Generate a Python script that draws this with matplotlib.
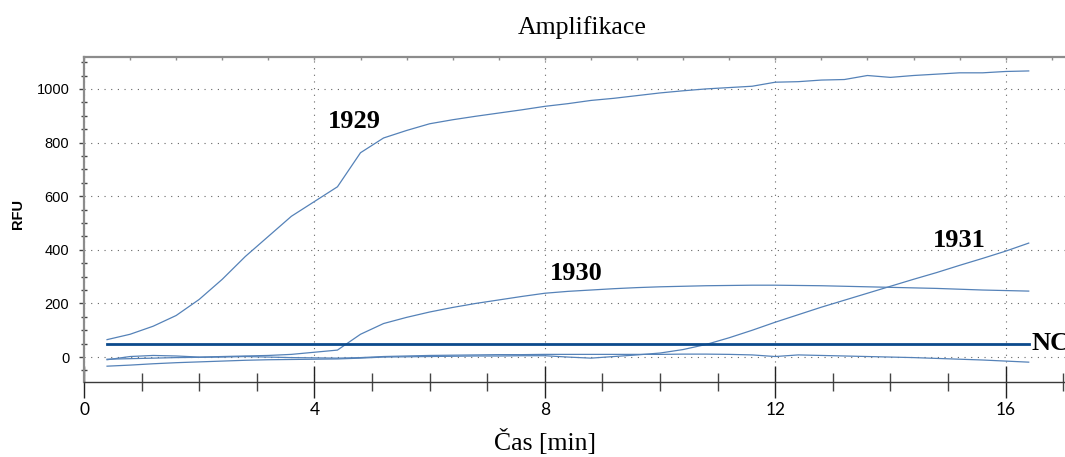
import matplotlib
matplotlib.use("Agg")
import matplotlib.pyplot as plt
from matplotlib.ticker import MultipleLocator, FixedLocator

# Cycle times [min]
time_min = [0.4, 0.8, 1.2, 1.6, 2.0, 2.4, 2.8, 3.2, 3.6, 4.0, 4.4,
            4.8, 5.2, 5.6, 6.0, 6.4, 6.8, 7.2, 7.6, 8.0, 8.4,
            8.8, 9.2, 9.6, 10.0, 10.4, 10.8, 11.2, 11.6, 12.0, 12.4,
            12.8, 13.2, 13.6, 14.0, 14.4, 14.8, 15.2, 15.6, 16.0, 16.4]

# Fluorescence (RFU) per sample
rfu_1929 = [65, 85, 115, 155, 215, 290, 375, 450, 525, 580, 635,
            762, 817, 845, 870, 885, 898, 910, 922, 935, 945,
            957, 965, 975, 985, 993, 1000, 1005, 1010, 1025, 1027,
            1033, 1035, 1050, 1043, 1050, 1055, 1060, 1060, 1065, 1067]
rfu_1930 = [-10, 2, 6, 4, 0, 2, 4, 6, 10, 18, 26,
            85, 125, 148, 168, 185, 200, 213, 226, 238, 245,
            250, 255, 259, 262, 264, 266, 267, 268, 268, 267,
            266, 264, 262, 260, 258, 256, 253, 250, 248, 246]
rfu_1931 = [-34, -30, -25, -21, -18, -15, -12, -10, -9, -8, -7,
            -4, 0, 1, 2, 3, 4, 4, 5, 5, 0,
            -4, 2, 8, 15, 28, 47, 72, 100, 130, 158,
            186, 212, 238, 264, 290, 315, 342, 368, 395, 425]
rfu_nc = [-8, -6, -4, -2, -1, 0, 2, 0, -2, -3, -4,
          -2, 2, 4, 6, 7, 8, 9, 9, 10, 10,
          10, 10, 10, 10, 11, 11, 10, 8, 2, 8,
          6, 4, 2, 0, -2, -5, -8, -11, -15, -19]
threshold = 50

# Label anchors (time, RFU)
labels = ["1929", "1930", "1931", "NC"]
label_x = [4.7, 8.54, 15.2, 16.45]
label_y = [880, 313, 433, 49]

curve_color = "#5582b8"
thr_color = "#0b4a8c"

fig = plt.figure(figsize=(10.65, 4.57), dpi=100)
ax = fig.add_axes([84 / 1065, 1 - 382 / 457, 1 - 84 / 1065, (382 - 57) / 457])

for series in (rfu_1929, rfu_1930, rfu_1931, rfu_nc):
    ax.plot(time_min, series, color=curve_color, lw=0.9, solid_joinstyle="round")
ax.plot([time_min[0], time_min[-1]], [threshold, threshold], color=thr_color, lw=2.0)

ax.set_xlim(0, 17.03)
ax.set_ylim(-93, 1119)

# Grid
ax.xaxis.set_major_locator(MultipleLocator(4))
ax.xaxis.set_minor_locator(MultipleLocator(1))
ax.yaxis.set_major_locator(FixedLocator([0, 200, 400, 600, 800, 1000]))
ax.yaxis.set_minor_locator(MultipleLocator(50))
ax.grid(True, which="major", color="#666666", lw=0.8, linestyle=(0, (1, 5)))
ax.set_axisbelow(True)

# Spines
ax.spines["right"].set_visible(False)
ax.spines["top"].set_color("#8c8c8c")
ax.spines["top"].set_linewidth(1.6)
ax.spines["left"].set_color("#8c8c8c")
ax.spines["left"].set_linewidth(1.6)
ax.spines["bottom"].set_color("#3a3a3a")
ax.spines["bottom"].set_linewidth(1.0)

# Ticks
ax.tick_params(axis="x", which="major", direction="inout", length=23, width=1.0,
               color="#222222", pad=3, labelsize=12.5, top=False)
ax.tick_params(axis="x", which="minor", direction="inout", length=13.5, width=1.0,
               color="#444444", top=False)
ax.tick_params(axis="y", which="major", direction="out", length=3.6, width=1.0,
               color="#444444", pad=7, labelsize=10.5, right=False)
ax.tick_params(axis="y", which="minor", direction="inout", length=4.5, width=1.0,
               color="#444444", right=False)
for t in ax.get_xticklabels():
    t.set_fontfamily("Lato")
for t in ax.get_yticklabels():
    t.set_fontfamily("Liberation Sans")

top = ax.secondary_xaxis("top")
top.xaxis.set_major_locator(MultipleLocator(0.8))
top.tick_params(direction="in", length=2.5, width=1.0, color="#8c8c8c", labeltop=False)
top.spines["top"].set_visible(False)

# Curve labels
for txt, x, y in zip(labels, label_x, label_y):
    ax.text(x, y, txt, fontfamily="Liberation Serif", fontweight="bold", fontsize=19,
            ha="left" if txt == "NC" else "center", va="center", clip_on=False)

fig.text(582 / 1065, 1 - 28 / 457, "Amplifikace", fontfamily="Liberation Serif",
         fontsize=18.5, ha="center", va="center")
fig.text(545 / 1065, 1 - 442 / 457, "Čas [min]", fontfamily="Liberation Serif",
         fontsize=18.5, ha="center", va="center")
fig.text(18 / 1065, 1 - 214 / 457, "RFU", fontfamily="Liberation Sans", fontweight="bold",
         fontsize=10.5, rotation=90, ha="center", va="center")

fig.savefig("out.png", dpi=100, facecolor="white")
